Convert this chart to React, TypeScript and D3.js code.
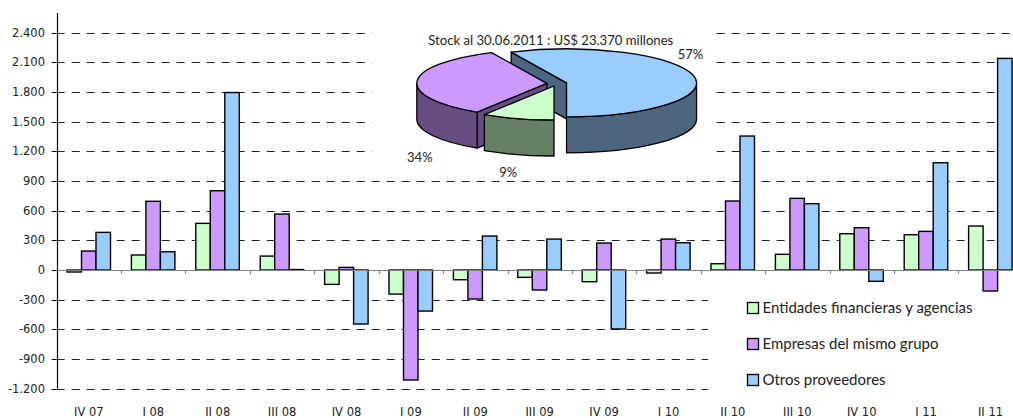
import React from 'react';
import * as d3 from 'd3';

const categories = ['IV 07', 'I 08', 'II 08', 'III 08', 'IV 08', 'I 09', 'II 09', 'III 09', 'IV 09', 'I 10', 'II 10', 'III 10', 'IV 10', 'I 11', 'II 11'];
const entidades = [-20, 152, 472, 141, -145, -243, -98, -74, -118, -30, 64, 159, 367, 357, 445];
const empresas = [192, 695, 802, 566, 27, -1112, -293, -202, 273, 313, 698, 725, 428, 391, -212];
const otros = [381, 185, 1795, 5, -546, -415, 344, 313, -596, 276, 1355, 671, -114, 1085, 2140];
const seriesNames = ['Entidades financieras y agencias', 'Empresas del mismo grupo', 'Otros proveedores'];
const yTicks = [-1200, -900, -600, -300, 0, 300, 600, 900, 1200, 1500, 1800, 2100, 2400];

const pieTitle = 'Stock al 30.06.2011 : US$ 23.370 millones';
const pieShares = [9, 34, 57];
const pieLabels = ['9%', '34%', '57%'];

const fills = ['#CCFFCC', '#CC99FF', '#99CCFF'];
const sides = ['#668066', '#664C80', '#4C6680'];

const W = 1013;
const H = 418;
const margin = { left: 56.7, top: 32.7, right: 1022.7, bottom: 388.7 };

const fmt = d3.formatLocale({ decimal: ',', thousands: '.', grouping: [3], currency: ['', ''], minus: '-' }).format(',d');

// pie layout (projected ellipse)
const pc = { cx: 556.8, cy: 83.5, rx: 130, ry: 34, depth: 36, explode: 10 };
// label anchors relative to pie centre
const pieLabelOffsets = [[-48.5, 89], [-137, 74], [133.7, -29]];

export default function App() {
	const x = d3.scaleBand().domain(categories).range([margin.left, margin.right]);
	const inner = d3.scaleBand().domain(['0', '1', '2']).range([10.3, 53.8]);
	const y = d3.scaleLinear().domain([-1200, 2400]).range([margin.bottom, margin.top]);
	const data = [entidades, empresas, otros];

	const snap = (v: number) => Math.round(v) + 0.5;

	// pie geometry
	const k = pc.ry / pc.rx;
	const arcs = d3.pie<number>().sort(null).startAngle(Math.PI).endAngle(3 * Math.PI)(pieShares);
	const pieParts = arcs.map((a, i) => {
		const m = (a.startAngle + a.endAngle) / 2;
		const ox = pc.explode * Math.sin(m);
		const oy = -pc.explode * k * Math.cos(m);
		const P = (t: number, d = 0) => [pc.cx + ox + pc.rx * Math.sin(t), pc.cy + oy - pc.ry * Math.cos(t) + d];
		const apex = [pc.cx + ox, pc.cy + oy];
		const s = a.startAngle;
		const e = a.endAngle;
		const large = e - s > Math.PI ? 1 : 0;
		const [p0, p1] = [P(s), P(e)];
		const top = `M${apex}L${p0}A${pc.rx},${pc.ry} 0 ${large} 1 ${p1}Z`;
		const faces: string[] = [];
		const radial = (t: number) => {
			const q = P(t);
			return `M${apex}L${q}L${q[0]},${q[1] + pc.depth}L${apex[0]},${apex[1] + pc.depth}Z`;
		};
		if (Math.sin(s) < -1e-6) faces.push(radial(s));
		if (Math.sin(e) > 1e-6) faces.push(radial(e));
		// front outer wall
		[[Math.PI / 2, 1.5 * Math.PI], [2.5 * Math.PI, 3.5 * Math.PI]].forEach(([lo, hi]) => {
			const ws = Math.max(s, lo);
			const we = Math.min(e, hi);
			if (we - ws > 1e-6) {
				const a0 = P(ws);
				const a1 = P(we);
				const b1 = P(we, pc.depth);
				const b0 = P(ws, pc.depth);
				faces.push(`M${a0}A${pc.rx},${pc.ry} 0 0 1 ${a1}L${b1}A${pc.rx},${pc.ry} 0 0 0 ${b0}Z`);
			}
		});
		return { i, top, faces };
	});
	const drawOrder = [2, 1, 0];

	return (
		<svg width={W} height={H} style={{ position: 'absolute', left: 0, top: 0, background: '#fff' }}>
			<rect width={W} height={H} fill="#fff" />
			{/* gridlines */}
			{yTicks.filter(t => t !== 0).map(t => (
				<line key={t} x1={margin.left} x2={W} y1={snap(y(t))} y2={snap(y(t))} stroke="#222" strokeWidth={1} strokeDasharray="8,7" />
			))}
			{/* y ticks and labels */}
			{yTicks.map(t => (
				<g key={'yl' + t}>
					<line x1={margin.left - 5} x2={margin.left} y1={snap(y(t))} y2={snap(y(t))} stroke="#000" />
					<text x={45} y={y(t)} dy="0.35em" textAnchor="end" fontFamily="DejaVu Sans" fontSize={11.5} fill="#222">{fmt(t)}</text>
				</g>
			))}
			{/* bars */}
			{categories.map((c, ci) => (
				<g key={c}>
					{data.map((vals, si) => {
						const v = vals[ci];
						const x0 = (x(c) as number) + (inner(String(si)) as number);
						const y0 = y(Math.max(0, v));
						const h = Math.abs(y(v) - y(0));
						return <rect key={si} x={x0} y={y0} width={inner.bandwidth()} height={h} fill={fills[si]} stroke="#000" strokeWidth={1.4} />;
					})}
				</g>
			))}
			{/* zero line and category ticks */}
			<line x1={margin.left} x2={W} y1={snap(y(0))} y2={snap(y(0))} stroke="#808080" strokeWidth={1.2} />
			{categories.map((c, ci) => (
				<line key={'xt' + c} x1={snap(x(c) as number)} x2={snap(x(c) as number)} y1={y(0)} y2={y(0) + 4} stroke="#808080" strokeWidth={1.2} />
			))}
			<line x1={snap(margin.left)} x2={snap(margin.left)} y1={13} y2={margin.bottom} stroke="#000" strokeWidth={1.2} />
			{/* x labels */}
			{categories.map(c => (
				<text key={'xl' + c} x={(x(c) as number) + x.bandwidth() / 2} y={416} textAnchor="middle" fontFamily="DejaVu Sans" fontSize={11.5} fill="#222">{c}</text>
			))}
			{/* legend */}
			<rect x={708} y={292} width={302} height={102} fill="#fff" />
			{seriesNames.map((n, i) => (
				<g key={n} transform={`translate(747.5,${308 + i * 36})`}>
					<rect x={0} y={-5.5} width={11} height={11} fill={fills[i]} stroke="#000" strokeWidth={1.3} />
					<text x={15} y={0} dy="0.36em" fontFamily="Lato" fontSize={15} fill="#222">{n}</text>
				</g>
			))}
			{/* pie */}
			<rect x={372} y={14} width={344} height={160} fill="#fff" />
			<text x={550.8} y={45} textAnchor="middle" fontFamily="Lato" fontSize={14} textLength={245} lengthAdjust="spacingAndGlyphs" fill="#222">{pieTitle}</text>
			{drawOrder.map(i => {
				const p = pieParts[i];
				return (
					<g key={'pie' + i}>
						{p.faces.map((f, j) => (
							<path key={j} d={f} fill={sides[i]} stroke="#000" strokeWidth={1.3} strokeLinejoin="round" />
						))}
						<path d={p.top} fill={fills[i]} stroke="#000" strokeWidth={1.3} strokeLinejoin="round" />
					</g>
				);
			})}
			{pieLabels.map((l, i) => (
				<text key={l} x={pc.cx + pieLabelOffsets[i][0]} y={pc.cy + pieLabelOffsets[i][1]} dy="0.35em" textAnchor="middle" fontFamily="Lato" fontSize={13} fill="#222">{l}</text>
			))}
		</svg>
	);
}
